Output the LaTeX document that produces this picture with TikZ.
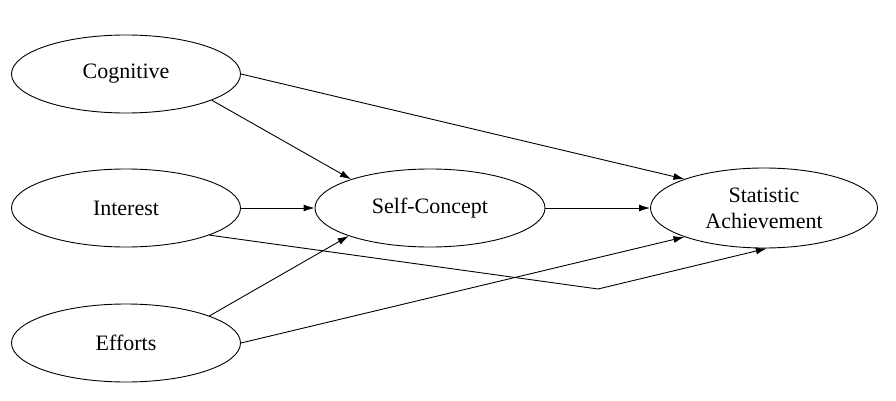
\documentclass[tikz,border=0pt]{standalone}
\usepackage{fontspec}
\setmainfont{Liberation Serif}
\usetikzlibrary{shapes.geometric,arrows.meta}
\begin{document}
\begin{tikzpicture}[x=1pt,y=-1pt,
  latent/.style={ellipse,draw,line width=0.9pt,minimum width=229pt,minimum height=78pt,inner sep=0pt,
    font=\fontsize{22}{26}\selectfont,align=center},
  conn/.style={line width=0.9pt,-{Latex[length=11pt,width=7pt]}}]
\useasboundingbox (0,0) rectangle (896,401);
\node[latent] (cog) at (126,74) {Cognitive};
\node[latent] (int) at (126,208) {Interest};
\node[latent] (eff) at (126,343) {Efforts};
\node[latent,minimum width=230pt] (sc) at (430,208) {Self-Concept};
\node[latent,minimum width=227pt,minimum height=80pt] (sa) at (764,208) {Statistic\\Achievement};
\coordinate (bend) at (598,289);
\draw[conn] (cog.east) -- (sa.160);
\draw[conn] (cog.-17.6) -- (sc.160);
\draw[conn] (int.east) -- (sc.west);
\draw[conn] (sc.east) -- (sa.west);
\draw[conn] (int.-18.9) -- (bend) -- (sa.-86);
\draw[conn] (eff.18.2) -- (sc.199.3);
\draw[conn] (eff.east) -- (sa.200);
\end{tikzpicture}
\end{document}
